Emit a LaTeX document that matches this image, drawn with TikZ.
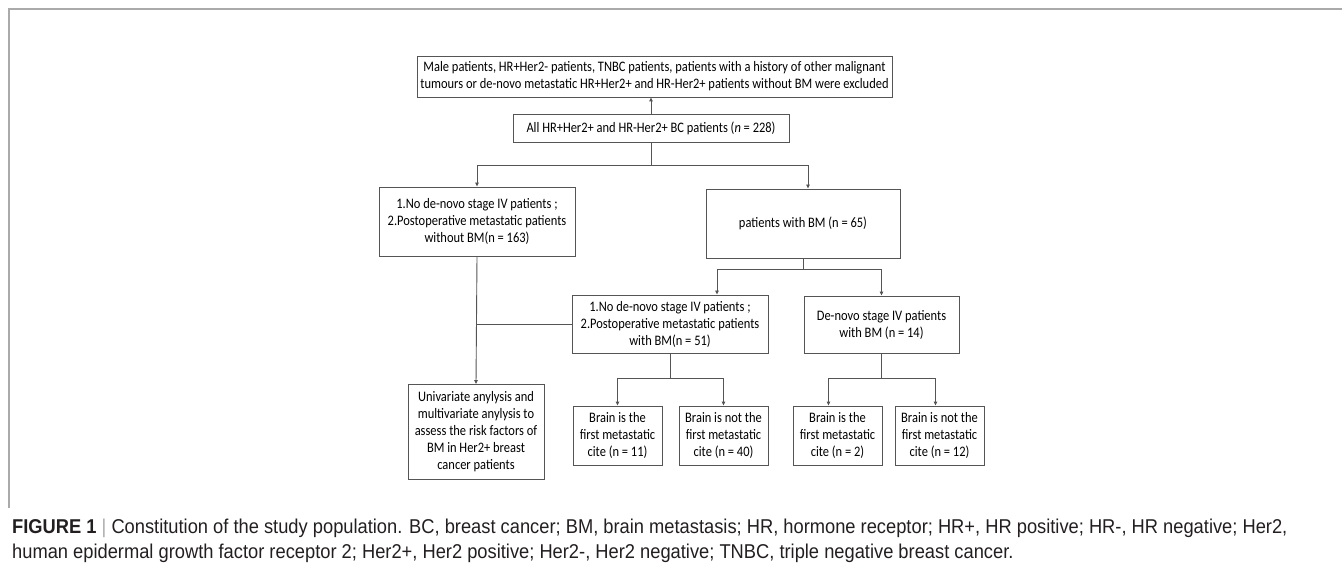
\documentclass[tikz,border=0pt]{standalone}
\usepackage{fontspec}
\setmainfont[FakeStretch=0.86]{Carlito}
\newfontfamily\capfont[FakeStretch=0.915]{Liberation Sans}
\usepackage{tikz}
\usetikzlibrary{arrows.meta, positioning, calc}
\definecolor{boxline}{RGB}{85,85,85}
\definecolor{frameline}{RGB}{170,170,170}
\definecolor{captext}{RGB}{35,31,32}

\begin{document}
\begin{tikzpicture}[
    x=1pt, y=-1pt,
    box/.style={draw=boxline, line width=0.9pt, align=center, inner sep=2pt,
        font=\fontsize{14.5}{17}\selectfont},
    link/.style={draw=boxline, line width=0.9pt},
    arr/.style={link, -{Triangle[length=4pt, width=3.5pt]}}
]
    \useasboundingbox (0,0) rectangle (1342,569);
    % Frame
    \draw[frameline, line width=1.2pt] (9,508) -- (9,9) -- (1342,9);

    % Top part
    \node[box, minimum width=475pt, minimum height=41pt] (excl) at (654.5,76.5) {Male patients, HR+Her2- patients, TNBC patients, patients with a history of other malignant\\tumours or de-novo metastatic HR+Her2+ and HR-Her2+ patients without BM were excluded};
    \node[box, minimum width=276pt, minimum height=28pt] (allbc) at (651,128) {All HR+Her2+ and HR-Her2+ BC patients (\textit{n} = 228)};

    % Second level
    \node[box, minimum width=196pt, minimum height=69pt] (nobm) at (477,221.5) {1.No de-novo stage IV patients ;\\2.Postoperative metastatic patients\\without BM(n = 163)};
    \node[box, minimum width=194pt, minimum height=69pt] (withbm) at (803,223.5) {patients with BM (n = 65)};

    % Third level
    \node[box, minimum width=196pt, minimum height=58pt] (postbm) at (670,324) {1.No de-novo stage IV patients ;\\2.Postoperative metastatic patients\\with BM(n = 51)};
    \node[box, minimum width=155pt, minimum height=57pt] (denovo) at (881.5,324.5) {De-novo stage IV patients\\with BM (n = 14)};

    % Bottom level
    \node[box, minimum width=136pt, minimum height=95pt] (uni) at (476,432) {Univariate anylysis and\\multivariate anylysis to\\assess the risk factors of\\BM in Her2+ breast\\cancer patients};
    \node[box, minimum width=89pt, minimum height=59pt] (first1) at (617.5,435.5) {Brain is the\\first metastatic\\cite (n = 11)};
    \node[box, minimum width=89pt, minimum height=59pt] (notfirst1) at (723.5,435.5) {Brain is not the\\first metastatic\\cite (n = 40)};
    \node[box, minimum width=89pt, minimum height=59pt] (first2) at (837.5,435.5) {Brain is the\\first metastatic\\cite (n = 2)};
    \node[box, minimum width=89pt, minimum height=59pt] (notfirst2) at (939.5,435.5) {Brain is not the\\first metastatic\\cite (n = 12)};

    % Connectors
    \draw[arr] (allbc.north) -- (allbc.north |- excl.south);
    \coordinate (split1) at (651,165);
    \draw[link] (allbc.south) -- (split1);
    \draw[arr] (split1) -| (nobm.north);
    \draw[arr] (split1) -| ([xshift=5pt]withbm.north);

    \coordinate (split2) at (803,269);
    \draw[link] (withbm.south) -- (split2);
    \draw[arr] (split2) -| ([xshift=47pt]postbm.north);
    \draw[arr] (split2) -| (denovo.north);

    \draw[arr] (nobm.south) -- (uni.north);
    \draw[link] (postbm.west) -- (postbm.west -| nobm.south);

    \coordinate (split3) at (670,378);
    \draw[link] (postbm.south) -- (split3);
    \draw[arr] (split3) -| (first1.north);
    \draw[arr] (split3) -| (notfirst1.north);

    \coordinate (split4) at (881.5,378);
    \draw[link] (denovo.south) -- (split4);
    \draw[arr] (split4) -| ([xshift=-9pt]first2.north);
    \draw[arr] (split4) -| ([xshift=-4pt]notfirst2.north);

    % Caption
    \node[anchor=west, inner sep=0pt, text=captext, font=\capfont\fontsize{20}{23}\selectfont] (cap1) at (12,528) {\textbf{FIGURE 1} {\color{frameline}|} Constitution of the study population. BC, breast cancer; BM, brain metastasis; HR, hormone receptor; HR+, HR positive; HR-, HR negative; Her2,};
    \node[anchor=west, inner sep=0pt, text=captext, font=\capfont\fontsize{20}{23}\selectfont] (cap2) at (12,553) {human epidermal growth factor receptor 2; Her2+, Her2 positive; Her2-, Her2 negative; TNBC, triple negative breast cancer.};
\end{tikzpicture}
\end{document}
